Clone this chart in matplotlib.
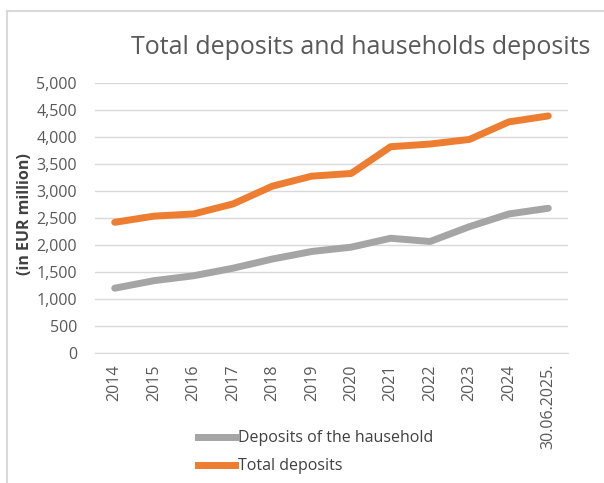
import matplotlib
matplotlib.use("Agg")
import matplotlib.pyplot as plt
from matplotlib.lines import Line2D

categories = ["2014", "2015", "2016", "2017", "2018", "2019", "2020",
              "2021", "2022", "2023", "2024", "30.06.2025."]
households = [1200, 1340, 1430, 1570, 1740, 1880, 1960, 2125, 2065, 2340, 2575, 2680]
total = [2420, 2535, 2575, 2760, 3090, 3275, 3325, 3820, 3870, 3955, 4280, 4390]
yticks = list(range(0, 5001, 500))

plt.rcParams['font.family'] = ['Open Sans', 'DejaVu Sans']

fig = plt.figure(figsize=(6.04, 4.83), dpi=100)
ax = fig.add_axes([95/604, 1-353/483, (568-95)/604, (353-83)/483])

x = list(range(len(categories)))
ax.plot(x, households, color="#a5a5a5", lw=5, solid_capstyle="round", solid_joinstyle="round", zorder=3)
ax.plot(x, total, color="#ed7d31", lw=5, solid_capstyle="round", solid_joinstyle="round", zorder=4)

ax.set_xlim(-0.5, len(categories) - 0.5)
ax.set_ylim(0, 5000)
ax.set_yticks(yticks)
ax.set_yticklabels([f"{v:,}" for v in yticks], fontsize=11.5, color="#595959")
ax.set_xticks(x)
ax.set_xticklabels(categories, rotation=90, fontsize=11.5, color="#595959")
ax.tick_params(axis="both", length=0)
ax.tick_params(axis="x", pad=8)
ax.tick_params(axis="y", pad=13)
ax.grid(axis="y", color="#d9d9d9", lw=1)
ax.set_axisbelow(True)
for s in ax.spines.values():
    s.set_visible(False)
ax.spines["bottom"].set_visible(True)
ax.spines["bottom"].set_color("#d9d9d9")

fig.text(361/604, 1-48/483, "Total deposits and hauseholds deposits", fontsize=18,
         color="#595959", ha="center", va="center")
fig.text(25/604, 1-214/483, "(in EUR million)", fontsize=11.5, fontweight="bold",
         color="#404040", rotation=90, ha="center", va="center")

handles = [Line2D([], [], color="#a5a5a5", lw=5),
           Line2D([], [], color="#ed7d31", lw=5)]
fig.legend(handles, ["Deposits of the hausehold", "Total deposits"],
           loc="upper left", bbox_to_anchor=(184/604, 1-416/483), frameon=False,
           fontsize=11.5, handlelength=2.3, handletextpad=0.15, labelspacing=0.75,
           labelcolor="#404040")

# chart border (top and left only)
fig.add_artist(Line2D([6.5/604, 6.5/604], [0, 1-10.5/483], transform=fig.transFigure,
                      color="#d9d9d9", lw=1.5))
fig.add_artist(Line2D([6.5/604, 1], [1-10.5/483, 1-10.5/483], transform=fig.transFigure,
                      color="#d9d9d9", lw=1.5))

fig.savefig("out.png", dpi=100)
